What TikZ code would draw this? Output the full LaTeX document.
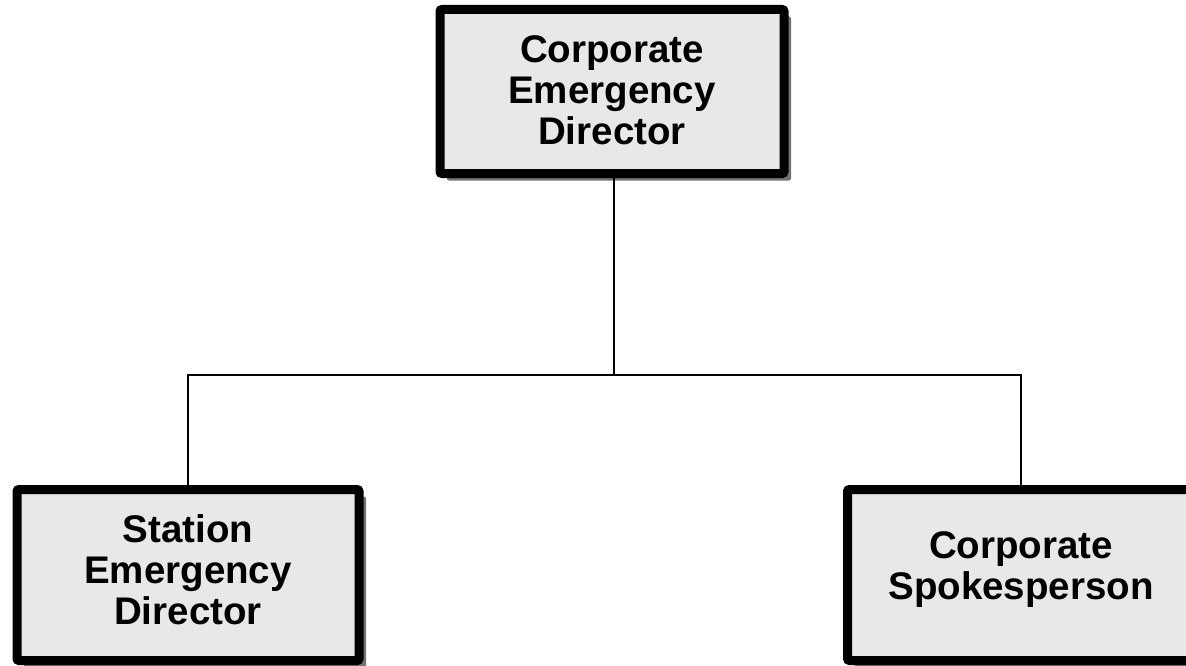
\documentclass[tikz,border=0pt]{standalone}
\usepackage{fontspec}
\setmainfont{Liberation Sans}
\usetikzlibrary{shadows}
\begin{document}
\begin{tikzpicture}[x=1pt,y=-1pt,
  orgbox/.style={draw=black, line width=9pt, fill=black!9, rounded corners=2pt,
    inner sep=0pt,
    drop shadow={shadow xshift=7pt, shadow yshift=-7pt, fill=black!55, opacity=1}},
  boxtext/.style={align=center, font=\bfseries\fontsize{38.5}{41}\selectfont, inner sep=0pt},
  link/.style={draw=black, line width=1.3pt}]
\useasboundingbox (0,0) rectangle (1186,666);
\node[orgbox, minimum width=344pt, minimum height=164pt,
  label={[boxtext, yshift=1pt]center:Corporate\\Emergency\\Director}] (top) at (612,91.5) {};
\node[orgbox, minimum width=342pt, minimum height=171pt,
  label={[boxtext, yshift=5pt]center:Station\\Emergency\\Director}] (sed) at (188,575) {};
\node[orgbox, minimum width=347pt, minimum height=171pt,
  label={[boxtext, yshift=5pt]center:Corporate\\Spokesperson}] (csp) at (1021,575) {};
\coordinate (junc) at (614,375);
\draw[link] (top.south -| junc) -- (junc);
\draw[link] (sed.north) |- (junc) -| (csp.north);
\end{tikzpicture}
\end{document}
